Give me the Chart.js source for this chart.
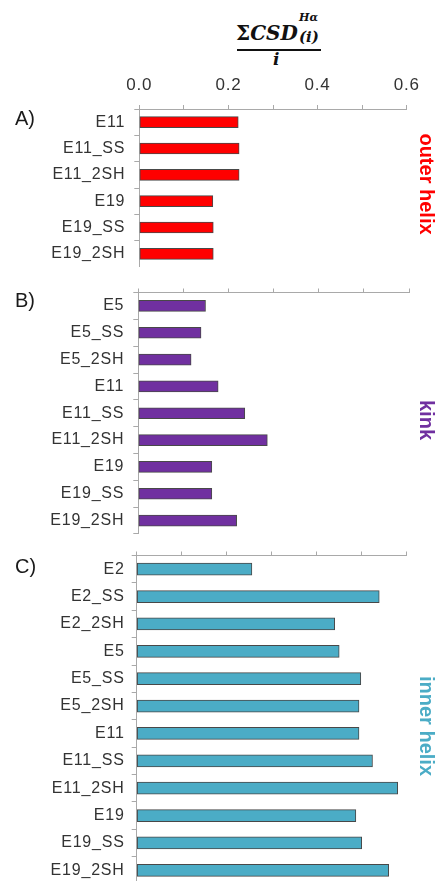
<!DOCTYPE html>
<html>
<head>
<meta charset="utf-8">
<script src="https://cdn.jsdelivr.net/npm/chart.js@4.4.1/dist/chart.umd.min.js"></script>
<style>
  html, body { margin: 0; padding: 0; width: 446px; height: 881px; overflow: hidden; background: #fff; }
  canvas { position: absolute; left: 0; }
  .txt { position: absolute; white-space: nowrap; line-height: 1; }
  .frac { font-family: "DejaVu Serif", serif; font-weight: bold; font-style: italic; color: #111; }
  .sigma { font-style: normal; }
  .fline { position: absolute; left: 237px; top: 49px; width: 84px; height: 2px; background: #111; }
  .panel-id { font-family: "Liberation Sans", Arial, sans-serif; font-size: 20px; color: #1a1a1a; left: 15px; }
  .side { position: absolute; font-family: "Liberation Sans", Arial, sans-serif; font-weight: bold; font-size: 20px;
          line-height: 1; writing-mode: vertical-rl; transform: translate(-50%, -50%); white-space: nowrap; }
</style>
</head>
<body>

<!-- axis title: sum of CSD(H-alpha) over i, divided by i -->
<div class="txt frac" style="left:236px; top:22.7px; font-size:20px;"><span class="sigma">Σ</span>CSD</div>
<div class="txt frac" style="left:299px; top:11.5px; font-size:11px;">Hα</div>
<div class="txt frac" style="left:299px; top:30.3px; font-size:15px;">(i)</div>
<div class="fline"></div>
<div class="txt frac" style="left:273px; top:50.6px; font-size:17px;">i</div>

<canvas id="outer" width="446" height="267" style="top:0px"></canvas>
<canvas id="kink" width="446" height="254" style="top:280px"></canvas>
<canvas id="inner" width="446" height="344" style="top:540px"></canvas>

<div class="txt panel-id" style="top:108px;">A)</div>
<div class="txt panel-id" style="top:290px;">B)</div>
<div class="txt panel-id" style="top:556px;">C)</div>

<div class="side" style="left:427px; top:184px; color:#ff0000;">outer helix</div>
<div class="side" style="left:427px; top:420px; color:#7030a0;">kink</div>
<div class="side" style="left:427px; top:726px; color:#4bacc6;">inner helix</div>

<script>
// Shared value-axis tick labels
const tickLabels = ['0.0', '0.2', '0.4', '0.6'];

// A) outer helix
const outerCats = ['E11', 'E11_SS', 'E11_2SH', 'E19', 'E19_SS', 'E19_2SH'];
const outerVals = [0.222, 0.224, 0.224, 0.165, 0.166, 0.166];

// B) kink
const kinkCats = ['E5', 'E5_SS', 'E5_2SH', 'E11', 'E11_SS', 'E11_2SH', 'E19', 'E19_SS', 'E19_2SH'];
const kinkVals = [0.149, 0.139, 0.117, 0.177, 0.236, 0.286, 0.163, 0.163, 0.218];

// C) inner helix
const innerCats = ['E2', 'E2_SS', 'E2_2SH', 'E5', 'E5_SS', 'E5_2SH', 'E11', 'E11_SS', 'E11_2SH', 'E19', 'E19_SS', 'E19_2SH'];
const innerVals = [0.256, 0.539, 0.440, 0.450, 0.498, 0.494, 0.494, 0.524, 0.580, 0.487, 0.500, 0.560];

const AXIS_GREY = '#a9a9a9';
const LABEL_FONT = 'Liberation Sans, Arial, sans-serif';

// slightly wider lettering for the axis labels
const spacing = {
  id: 'labelSpacing',
  beforeDraw(chart) { chart.ctx.letterSpacing = '0.8px'; }
};

function panel(id, cats, vals, color, g) {
  return new Chart(document.getElementById(id), {
    type: 'bar',
    plugins: [spacing],
    data: {
      labels: cats,
      datasets: [{
        data: vals,
        backgroundColor: color,
        borderColor: 'rgba(40,40,40,0.85)',
        borderWidth: 1,
        borderSkipped: false,
        barThickness: g.bar
      }]
    },
    options: {
      indexAxis: 'y',
      responsive: false,
      animation: false,
      layout: { padding: { left: 0, right: 446 - g.right, top: 0, bottom: 0 } },
      plugins: { legend: { display: false }, tooltip: { enabled: false } },
      scales: {
        x: {
          position: 'top',
          min: 0,
          max: 0.6,
          ticks: {
            display: g.tickText,
            stepSize: 0.1,
            autoSkip: false,
            maxRotation: 0,
            padding: 9,
            color: '#333',
            font: { family: LABEL_FONT, size: 17 },
            callback: v => {
              const s = Number(v).toFixed(1);
              return tickLabels.includes(s) ? s : '';
            }
          },
          grid: { drawOnChartArea: false, tickLength: 4, color: AXIS_GREY },
          border: { color: AXIS_GREY },
          afterFit: s => { s.height = g.top; }
        },
        y: {
          ticks: {
            autoSkip: false,
            padding: g.pad,
            color: '#333',
            font: { family: LABEL_FONT, size: 16 }
          },
          grid: { offset: true, drawOnChartArea: false, tickLength: 5, color: AXIS_GREY },
          border: { color: AXIS_GREY },
          afterFit: s => { s.width = g.left; s.paddingTop = 0; s.paddingBottom = 0; }
        }
      }
    }
  });
}

panel('outer', outerCats, outerVals, '#ff0000', { left: 139.3, right: 406.7, top: 109, bar: 11, pad: 9, tickText: true });
panel('kink', kinkCats, kinkVals, '#7030a0', { left: 138.3, right: 409, top: 12.5, bar: 11, pad: 9, tickText: false });
panel('inner', innerCats, innerVals, '#4bacc6', { left: 136.7, right: 406.7, top: 15.5, bar: 12, pad: 7, tickText: false });
</script>
</body>
</html>
